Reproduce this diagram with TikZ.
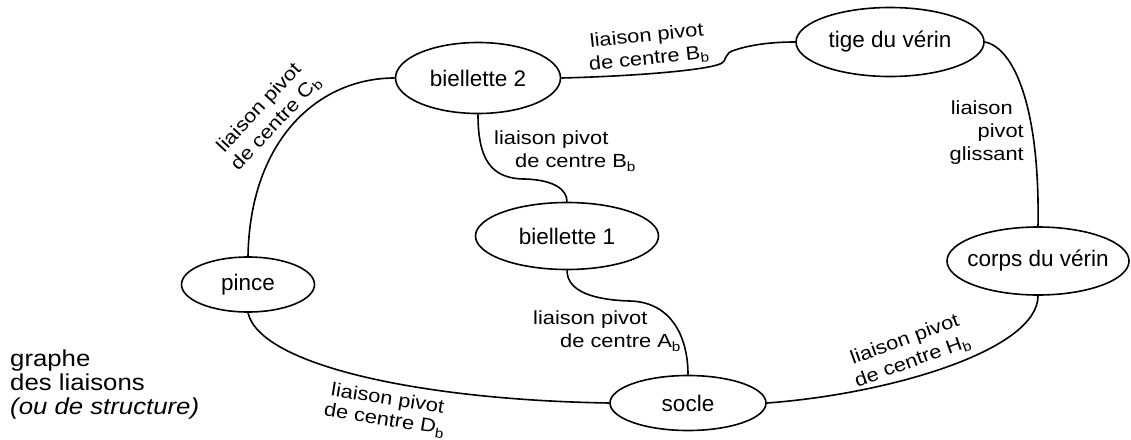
\documentclass[tikz,border=0pt]{standalone}
\usepackage{fontspec}
\setmainfont{Liberation Sans}
\newfontfamily\lblfam[FakeStretch=1.15]{Liberation Sans}
\newfontfamily\sidefam[FakeStretch=1.12]{Liberation Sans}
\usetikzlibrary{shapes.geometric}
\tikzset{
  part/.style={ellipse, draw, line width=1.6pt, inner sep=0pt},
  ptxt/.style={font=\fontsize{22.5}{26}\selectfont},
  link/.style={line width=1.6pt},
  lbl/.style={font=\lblfam\fontsize{19}{23}\selectfont, inner sep=0pt},
  side/.style={font=\sidefam\fontsize{23}{25}\selectfont, inner sep=0pt, anchor=base west},
}
\begin{document}
\begin{tikzpicture}[x=1pt,y=-1pt]
\useasboundingbox (0,0) rectangle (1131,439);
% parts
\node[part, minimum width=165pt, minimum height=71pt, label={[ptxt]center:biellette 2}] (b2) at (478,78) {};
\node[part, minimum width=188pt, minimum height=69pt, label={[ptxt]center:tige du vérin}] (tg) at (890,42) {};
\node[part, minimum width=182pt, minimum height=68pt, label={[ptxt]center:corps du vérin}] (co) at (1038,261) {};
\node[part, minimum width=183pt, minimum height=67pt, label={[ptxt]center:biellette 1}] (b1) at (567,236) {};
\node[part, minimum width=133pt, minimum height=55pt, label={[ptxt]center:pince}] (pi) at (248,284.5) {};
\node[part, minimum width=156pt, minimum height=55pt, label={[ptxt]center:socle}] (so) at (688,403) {};
% intermediate points
\coordinate (k1) at (720,64);
\coordinate (k2) at (735,50);
\coordinate (k3) at (525,179);
\coordinate (k4) at (630,301);
% links
\draw[link] (b2.west) .. controls (318,78) and (250,140) .. (pi.north);
\draw[link] (b2.east) .. controls (640,76) and (705,70) .. (k1)
  .. controls (728,61) and (723,53) .. (k2)
  .. controls (750,45) and (770,42) .. (tg.west);
\draw[link] (b2.south) .. controls (478,158) and (490,179) .. (k3)
  .. controls (555,180) and (567,190) .. (b1.north);
\draw[link] (b1.south) .. controls (567,292) and (595,300) .. (k4)
  .. controls (670,302) and (688,335) .. (so.north);
\draw[link] (pi.south) .. controls (260,365) and (420,400) .. (so.west);
\draw[link] (so.east) .. controls (890,394) and (1038,350) .. (co.south);
\draw[link] (tg.east) .. controls (1015,48) and (1040,110) .. (co.north);
% link labels
\node[lbl, align=center, rotate=47] (lc) at (268,116) {liaison pivot\\de centre C\textsubscript{b}};
\node[lbl, align=center, rotate=6] (lbt) at (648,48) {liaison pivot\\de centre B\textsubscript{b}};
\node[lbl, align=left, anchor=west] (lbm) at (494,151) {liaison pivot\\\hspace*{21pt}de centre B\textsubscript{b}};
\node[lbl, align=left, anchor=west] (la) at (533,331) {liaison pivot\\\hspace*{27pt}de centre A\textsubscript{b}};
\node[lbl, align=center, rotate=-9, font=\lblfam\fontsize{19}{21}\selectfont] (ld) at (386,410) {liaison pivot\\de centre D\textsubscript{b}};
\node[lbl, align=center, rotate=20] (lh) at (909,351) {liaison pivot\\de centre H\textsubscript{b}};
\node[lbl, align=right, anchor=east] (lg) at (1024,133) {liaison\hspace*{11pt}\\pivot\hspace*{6pt}\\glissant};
% side text
\node[side] (t1) at (10,366) {graphe};
\node[side] (t2) at (10,390) {des liaisons};
\node[side] (t3) at (10,414) {\itshape (ou de structure)};
\end{tikzpicture}
\end{document}
